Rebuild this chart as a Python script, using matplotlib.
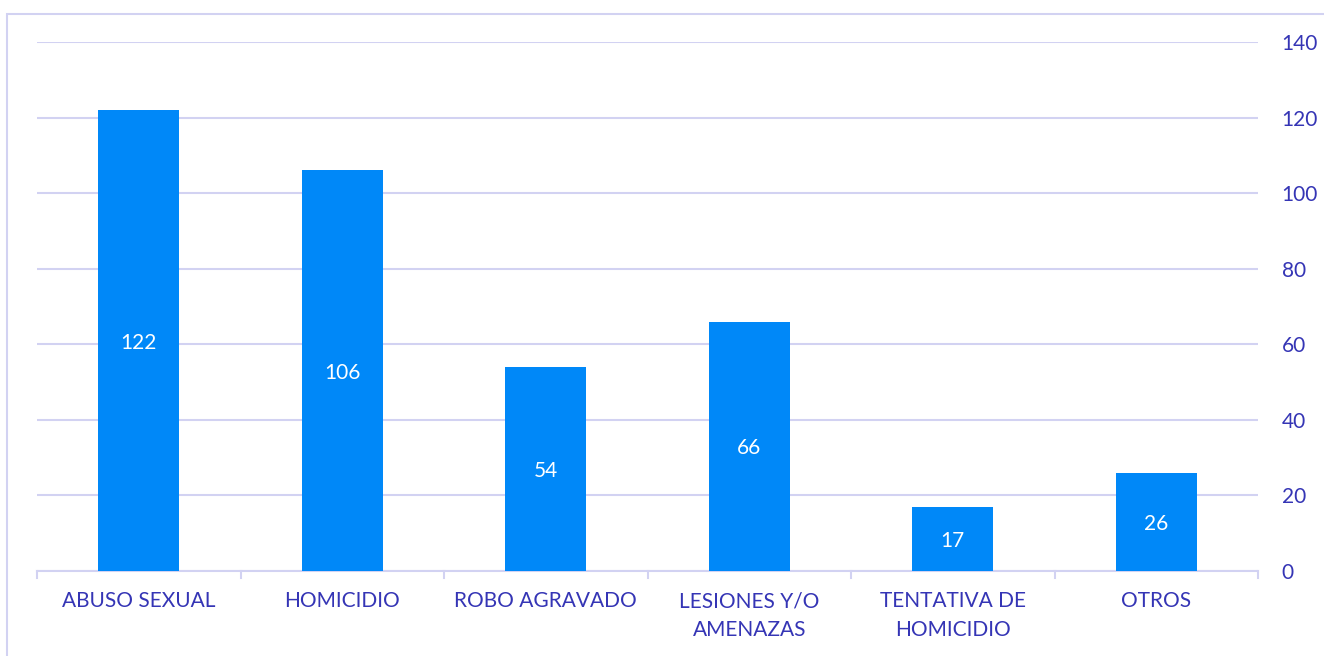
import matplotlib.pyplot as plt
import matplotlib.patches as patches
import numpy as np

plt.rcParams['font.family'] = ['Lato', 'DejaVu Sans']

categories = ["ABUSO SEXUAL", "HOMICIDIO", "ROBO AGRAVADO",
              "LESIONES Y/O\nAMENAZAS", "TENTATIVA DE\nHOMICIDIO", "OTROS"]
values = [122, 106, 54, 66, 17, 26]
yticks = [0, 20, 40, 60, 80, 100, 120, 140]

bar_color = "#0088F8"
grid_color = "#D2D2F2"
text_color = "#3535B5"

W, H = 1324, 656
fig = plt.figure(figsize=(W / 100, H / 100), dpi=100)
ax = fig.add_axes([37 / W, 1 - 571 / H, (1258 - 37) / W, (571 - 42) / H])

x = np.arange(len(categories))
bars = ax.bar(x, values, width=0.4, color=bar_color, zorder=3)
for b, v in zip(bars, values):
    ax.text(b.get_x() + b.get_width() / 2, v / 2, str(v), ha="center",
            va="center_baseline", color="white", fontsize=15, zorder=4)

ax.set_xlim(-0.5, len(categories) - 0.5)
ax.set_ylim(0, 140)
ax.set_yticks(yticks)
ax.yaxis.tick_right()
ax.tick_params(axis="y", length=0, pad=17, labelsize=15, labelcolor=text_color)
ax.grid(axis="y", color=grid_color, linewidth=1.5, zorder=0)

# category labels and boundary ticks
ax.set_xticks([])
for xi, cat in zip(x, categories):
    ax.annotate(cat, xy=(xi, 0), xycoords=("data", "axes fraction"),
                xytext=(0, -20), textcoords="offset pixels",
                ha="center", va="top", fontsize=15, color=text_color,
                linespacing=1.55)
for b in np.arange(-0.5, len(categories), 1.0):
    ax.plot([b, b], [0, -0.014], transform=ax.get_xaxis_transform(),
            color=grid_color, linewidth=1.5, clip_on=False)

for s in ["left", "right", "top"]:
    ax.spines[s].set_visible(False)
ax.spines["bottom"].set_color(grid_color)
ax.spines["bottom"].set_linewidth(1.5)

# outer chart border
fig.patches.append(patches.Rectangle((7 / W, -0.1), 2, 1 - 14 / H + 0.1,
                                     transform=fig.transFigure, fill=False,
                                     edgecolor=grid_color, linewidth=1.5))

fig.savefig("out.png", dpi=100)
